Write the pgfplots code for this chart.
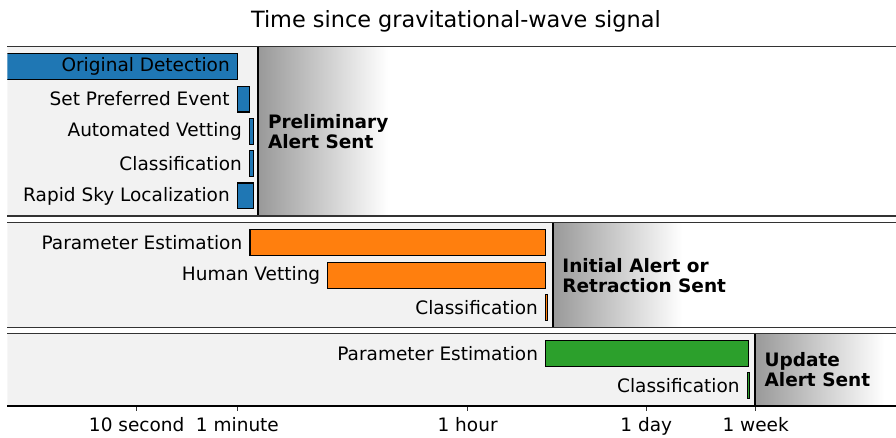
\documentclass[border=0pt]{standalone}
\usepackage{fontspec}
\setmainfont{DejaVu Sans}
\usepackage{pgfplots}
\pgfplotsset{compat=1.18}
\definecolor{tabblue}{HTML}{1F77B4}
\definecolor{taborange}{HTML}{FF7F0E}
\definecolor{tabgreen}{HTML}{2CA02C}
\definecolor{bggray}{HTML}{F2F2F2}
\definecolor{shadegray}{HTML}{999999}
\definecolor{spine}{HTML}{333333}
\newcommand\lab{\fontsize{18.5pt}{20pt}\selectfont}
\newcommand\alertfont{\fontsize{18.5pt}{20pt}\selectfont\bfseries}
\newcommand\titlefont{\fontsize{22.4pt}{26pt}\selectfont}
\tikzset{
  mybar/.style={draw=black, line width=1.1pt},
  mylab/.style={anchor=east, inner sep=0pt, xshift=-7.5pt, font=\lab},
  myalert/.style={anchor=west, inner sep=0pt, xshift=9.5pt, align=left, font=\alertfont},
}
\begin{document}
\begin{tikzpicture}
% ---------------- top panel
\begin{axis}[xmode=log, xmin=1, xmax=7.34e6,
    scale only axis, width=888.75pt,
    separate axis lines,
    x axis line style={draw=spine, line width=1.5pt},
    y axis line style={draw=none},
    ytick=\empty, xtick=\empty, xminorticks=false,
    axis on top=true, clip=true,
    at={(7.25pt,222pt)}, anchor=south west, height=169.3pt, ymin=-0.62, ymax=4.62]
\addplot[fill=bggray, draw=none] coordinates {(0.5,-1) (87,-1) (87,6) (0.5,6)} -- cycle;
\addplot[draw=none, left color=shadegray, right color=white] coordinates {(87,-1) (870,-1) (870,6) (87,6)} -- cycle;
\addplot[mybar, fill=tabblue] coordinates {(0.5,3.6) (60,3.6) (60,4.4) (0.5,4.4)} -- cycle;
\addplot[mybar, fill=tabblue] coordinates {(60,2.6) (74.5,2.6) (74.5,3.4) (60,3.4)} -- cycle;
\addplot[mybar, fill=tabblue] coordinates {(74.5,1.6) (79.5,1.6) (79.5,2.4) (74.5,2.4)} -- cycle;
\addplot[mybar, fill=tabblue] coordinates {(74.5,0.6) (79.5,0.6) (79.5,1.4) (74.5,1.4)} -- cycle;
\addplot[mybar, fill=tabblue] coordinates {(60,-0.4) (79.5,-0.4) (79.5,0.4) (60,0.4)} -- cycle;
\addplot[black, line width=2pt] coordinates {(87,-1) (87,6)};
\node[mylab] at (axis cs:60,4) {Original Detection};
\node[mylab] at (axis cs:60,3) {Set Preferred Event};
\node[mylab] at (axis cs:74.5,2) {Automated Vetting};
\node[mylab] at (axis cs:74.5,1) {Classification};
\node[mylab] at (axis cs:60,0) {Rapid Sky Localization};
\node[myalert] at (axis cs:87,2) {Preliminary\\Alert Sent};
\end{axis}
% ---------------- middle panel
\begin{axis}[xmode=log, xmin=1, xmax=7.34e6,
    scale only axis, width=888.75pt,
    separate axis lines,
    x axis line style={draw=spine, line width=1.5pt},
    y axis line style={draw=none},
    ytick=\empty, xtick=\empty, xminorticks=false,
    axis on top=true, clip=true,
    at={(7.25pt,110.3pt)}, anchor=south west, height=105pt, ymin=-0.62, ymax=2.62]
\addplot[fill=bggray, draw=none] coordinates {(0.5,-1) (16360,-1) (16360,4) (0.5,4)} -- cycle;
\addplot[draw=none, left color=shadegray, right color=white] coordinates {(16360,-1) (163600,-1) (163600,4) (16360,4)} -- cycle;
\addplot[mybar, fill=taborange] coordinates {(75,1.6) (14300,1.6) (14300,2.4) (75,2.4)} -- cycle;
\addplot[mybar, fill=taborange] coordinates {(300,0.6) (14500,0.6) (14500,1.4) (300,1.4)} -- cycle;
\addplot[mybar, fill=taborange] coordinates {(14400,-0.4) (14950,-0.4) (14950,0.4) (14400,0.4)} -- cycle;
\addplot[black, line width=2pt] coordinates {(16360,-1) (16360,4)};
\node[mylab] at (axis cs:75,2) {Parameter Estimation};
\node[mylab] at (axis cs:300,1) {Human Vetting};
\node[mylab] at (axis cs:14400,0) {Classification};
\node[myalert] at (axis cs:16360,1) {Initial Alert or\\Retraction Sent};
\end{axis}
% ---------------- bottom panel
\begin{axis}[xmode=log, xmin=1, xmax=7.34e6,
    scale only axis, width=888.75pt,
    separate axis lines,
    x axis line style={draw=spine, line width=1.5pt},
    y axis line style={draw=none},
    ytick=\empty, xminorticks=false,
    axis on top=true, clip=true,
    name=bot, at={(7.25pt,32.3pt)}, anchor=south west, height=72.4pt, ymin=-0.62, ymax=1.62,
    xtick={10,60,3600,86400,604800},
    xticklabels={10 second,1 minute,1 hour,1 day,1 week},
    xtick pos=lower, tick align=outside, major tick length=5pt,
    tick style={spine, line width=1.2pt},
    xticklabel style={font=\lab, inner sep=0pt, text height=14pt, text depth=4pt, yshift=-6.5pt}]
\addplot[fill=bggray, draw=none] coordinates {(0.5,-1) (597000,-1) (597000,3) (0.5,3)} -- cycle;
\addplot[draw=none, left color=shadegray, right color=white] coordinates {(597000,-1) (5970000,-1) (5970000,3) (597000,3)} -- cycle;
\addplot[mybar, fill=tabgreen] coordinates {(14450,0.6) (530000,0.6) (530000,1.4) (14450,1.4)} -- cycle;
\addplot[mybar, fill=tabgreen] coordinates {(521000,-0.4) (540000,-0.4) (540000,0.4) (521000,0.4)} -- cycle;
\addplot[black, line width=2pt] coordinates {(597000,-1) (597000,3)};
\node[mylab] at (axis cs:14450,1) {Parameter Estimation};
\node[mylab] at (axis cs:521000,0) {Classification};
\node[myalert] at (axis cs:597000,0.5) {Update\\Alert Sent};
\end{axis}
\draw[black, line width=2pt] (bot.south west) -- (bot.south east);
\node[anchor=base, font=\titlefont, inner sep=0pt] at (455.9pt,410pt) {Time since gravitational-wave signal};
\pgfresetboundingbox
\path[use as bounding box] (0,0) rectangle (896pt,438pt);
\end{tikzpicture}
\end{document}
